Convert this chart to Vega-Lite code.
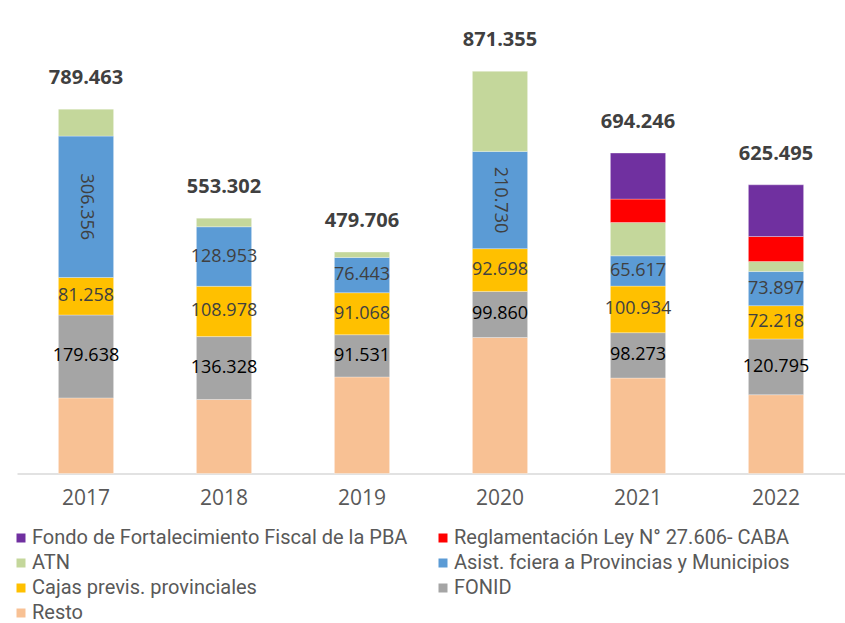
{
  "$schema": "https://vega.github.io/schema/vega-lite/v6.json",
  "width": 828,
  "height": 461.5,
  "autosize": {"type": "none"},
  "padding": {"left": 17, "top": 12, "right": 0, "bottom": 149.5},
  "background": "white",
  "config": {
    "locale": {"number": {"decimal": ",", "thousands": ".", "grouping": [3], "currency": ["$", ""]}},
    "view": {"stroke": null},
    "font": "Open Sans"
  },
  "data": {
    "values": [
      {"anio": "2017", "serie": "Resto", "valor": 163811},
      {"anio": "2017", "serie": "FONID", "valor": 179638},
      {"anio": "2017", "serie": "Cajas previs. provinciales", "valor": 81258},
      {"anio": "2017", "serie": "Asist. fciera a Provincias y Municipios", "valor": 306356},
      {"anio": "2017", "serie": "ATN", "valor": 58400},
      {"anio": "2018", "serie": "Resto", "valor": 160343},
      {"anio": "2018", "serie": "FONID", "valor": 136328},
      {"anio": "2018", "serie": "Cajas previs. provinciales", "valor": 108978},
      {"anio": "2018", "serie": "Asist. fciera a Provincias y Municipios", "valor": 128953},
      {"anio": "2018", "serie": "ATN", "valor": 18700},
      {"anio": "2019", "serie": "Resto", "valor": 209164},
      {"anio": "2019", "serie": "FONID", "valor": 91531},
      {"anio": "2019", "serie": "Cajas previs. provinciales", "valor": 91068},
      {"anio": "2019", "serie": "Asist. fciera a Provincias y Municipios", "valor": 76443},
      {"anio": "2019", "serie": "ATN", "valor": 11500},
      {"anio": "2020", "serie": "Resto", "valor": 294700},
      {"anio": "2020", "serie": "FONID", "valor": 99860},
      {"anio": "2020", "serie": "Cajas previs. provinciales", "valor": 92698},
      {"anio": "2020", "serie": "Asist. fciera a Provincias y Municipios", "valor": 210730},
      {"anio": "2020", "serie": "ATN", "valor": 173367},
      {"anio": "2021", "serie": "Resto", "valor": 206822},
      {"anio": "2021", "serie": "FONID", "valor": 98273},
      {"anio": "2021", "serie": "Cajas previs. provinciales", "valor": 100934},
      {"anio": "2021", "serie": "Asist. fciera a Provincias y Municipios", "valor": 65617},
      {"anio": "2021", "serie": "ATN", "valor": 72200},
      {"anio": "2021", "serie": "Reglamentación Ley N° 27.606- CABA", "valor": 50700},
      {"anio": "2021", "serie": "Fondo de Fortalecimiento Fiscal de la PBA", "valor": 99700},
      {"anio": "2022", "serie": "Resto", "valor": 170685},
      {"anio": "2022", "serie": "FONID", "valor": 120795},
      {"anio": "2022", "serie": "Cajas previs. provinciales", "valor": 72218},
      {"anio": "2022", "serie": "Asist. fciera a Provincias y Municipios", "valor": 73897},
      {"anio": "2022", "serie": "ATN", "valor": 21700},
      {"anio": "2022", "serie": "Reglamentación Ley N° 27.606- CABA", "valor": 54200},
      {"anio": "2022", "serie": "Fondo de Fortalecimiento Fiscal de la PBA", "valor": 112000}
    ]
  },
  "transform": [
    {"calculate": "indexof(['Resto','FONID','Cajas previs. provinciales','Asist. fciera a Provincias y Municipios','ATN','Reglamentación Ley N° 27.606- CABA','Fondo de Fortalecimiento Fiscal de la PBA'], datum.serie)", "as": "ord"},
    {"stack": "valor", "groupby": ["anio"], "sort": [{"field": "ord", "order": "ascending"}], "as": ["v0", "v1"]},
    {"calculate": "(datum.v0 + datum.v1) / 2", "as": "mid"}
  ],
  "encoding": {
    "x": {
      "field": "anio", "type": "nominal",
      "scale": {"paddingInner": 0.6, "paddingOuter": 0.3},
      "axis": {
        "title": null, "labelAngle": 0, "ticks": false, "grid": false,
        "domainColor": "#D9D9D9", "domainWidth": 1.5,
        "labelFontSize": 21, "labelColor": "#595959", "labelPadding": 14,
        "labelFont": "Open Sans"
      }
    }
  },
  "layer": [
    {
      "mark": {"type": "bar", "stroke": "#ffffff", "strokeWidth": 0.5, "strokeOpacity": 0.6},
      "encoding": {
        "y": {"field": "v0", "type": "quantitative", "scale": {"domain": [0, 1000000], "nice": false, "zero": true}, "axis": null},
        "y2": {"field": "v1"},
        "color": {
          "field": "serie", "type": "nominal",
          "scale": {
            "domain": ["Fondo de Fortalecimiento Fiscal de la PBA", "Reglamentación Ley N° 27.606- CABA", "ATN", "Asist. fciera a Provincias y Municipios", "Cajas previs. provinciales", "FONID", "Resto"],
            "range": ["#7030A0", "#FF0000", "#C4D79B", "#5B9BD5", "#FFC000", "#A5A5A5", "#F8C194"]
          },
          "legend": {
            "title": null, "orient": "none", "legendX": -6, "legendY": 516,
            "direction": "horizontal",
            "columns": 2, "columnPadding": 25, "rowPadding": 5,
            "symbolType": "square", "symbolSize": 81, "symbolStrokeWidth": 0,
            "labelFont": "Roboto", "labelFontSize": 20, "labelColor": "#595959",
            "labelOffset": 1, "labelLimit": 600
          }
        }
      }
    },
    {
      "transform": [
        {"filter": "indexof(['FONID','Cajas previs. provinciales','Asist. fciera a Provincias y Municipios'], datum.serie) >= 0"},
        {"filter": "!(datum.serie === 'Asist. fciera a Provincias y Municipios' && (datum.anio === '2017' || datum.anio === '2020'))"}
      ],
      "mark": {"type": "text", "fontSize": 18, "font": "Open Sans", "baseline": "middle", "align": "center"},
      "encoding": {
        "y": {"field": "mid", "type": "quantitative"},
        "text": {"field": "valor", "type": "quantitative", "format": ",d"},
        "color": {"condition": {"test": "datum.serie === 'FONID'", "value": "#000000"}, "value": "#404040"}
      }
    },
    {
      "transform": [
        {"filter": "datum.serie === 'Asist. fciera a Provincias y Municipios' && (datum.anio === '2017' || datum.anio === '2020')"}
      ],
      "mark": {"type": "text", "fontSize": 18, "font": "Open Sans", "baseline": "middle", "align": "center", "angle": 90, "color": "#404040"},
      "encoding": {
        "y": {"field": "mid", "type": "quantitative"},
        "text": {"field": "valor", "type": "quantitative", "format": ",d"}
      }
    },
    {
      "transform": [
        {"aggregate": [{"op": "sum", "field": "valor", "as": "total"}], "groupby": ["anio"]}
      ],
      "mark": {"type": "text", "fontSize": 20, "font": "Open Sans", "fontWeight": "bold", "baseline": "middle", "align": "center", "dy": -31, "color": "#404040"},
      "encoding": {
        "y": {"field": "total", "type": "quantitative"},
        "text": {"field": "total", "type": "quantitative", "format": ",d"}
      }
    }
  ]
}
